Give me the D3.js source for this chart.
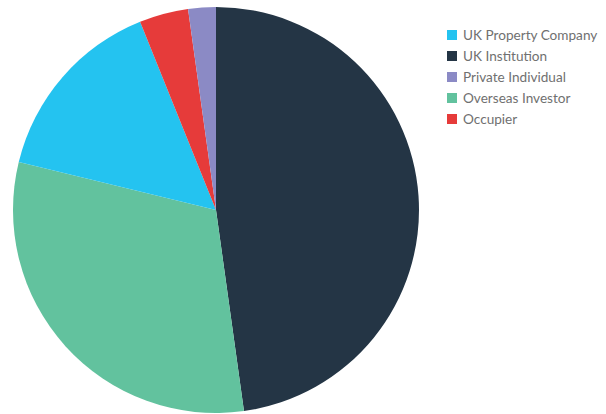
<!DOCTYPE html>
<html>
<head>
<meta charset="utf-8">
<script src="https://cdn.jsdelivr.net/npm/d3@7/dist/d3.min.js"></script>
<style>
  html, body { margin: 0; padding: 0; background: #fff; }
  svg { display: block; }
</style>
</head>
<body>
<script>
// Purchaser types, in legend order
const categories = ["UK Property Company", "UK Institution", "Private Individual", "Overseas Investor", "Occupier"];
const shares = [15.1, 47.8, 2.2, 31.0, 3.9];
const colors = ["#24C3F0", "#243545", "#8B8AC5", "#62C29E", "#E63B3A"];
// Slice order going clockwise from twelve o'clock
const sliceOrder = ["UK Institution", "Overseas Investor", "UK Property Company", "Occupier", "Private Individual"];

const width = 606, height = 414;
const cx = 216, cy = 210, radius = 203;

const svg = d3.select("body").append("svg")
  .attr("width", width).attr("height", height);

const color = d3.scaleOrdinal().domain(categories).range(colors);

const rows = sliceOrder.map(name => ({ name, value: shares[categories.indexOf(name)] }));

const pie = d3.pie().value(d => d.value).sort(null);
const arc = d3.arc().innerRadius(0).outerRadius(radius);

svg.append("g")
  .attr("transform", `translate(${cx},${cy})`)
  .selectAll("path")
  .data(pie(rows))
  .join("path")
  .attr("d", arc)
  .attr("fill", d => color(d.data.name));

// Legend
const legend = svg.append("g").attr("transform", "translate(447,30)");
const item = legend.selectAll("g")
  .data(categories)
  .join("g")
  .attr("transform", (d, i) => `translate(0,${i * 21})`);

item.append("rect")
  .attr("width", 10).attr("height", 10)
  .attr("fill", d => color(d));

item.append("text")
  .attr("x", 16).attr("y", 9.5)
  .attr("font-family", "Lato, 'Open Sans', sans-serif")
  .attr("font-size", 13.6)
  .attr("fill", "#707070")
  .text(d => d);
</script>
</body>
</html>
